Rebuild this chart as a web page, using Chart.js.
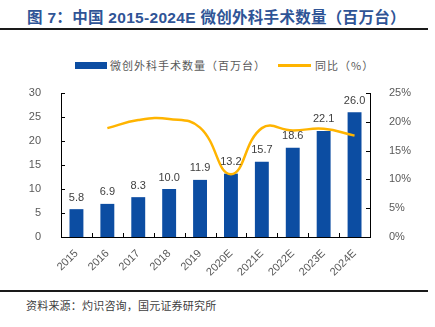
<!DOCTYPE html>
<html>
<head>
<meta charset="utf-8">
<script src="https://cdn.jsdelivr.net/npm/chart.js@4/dist/chart.umd.min.js"></script>
<style>
  body { margin: 0; background: #fff; width: 435px; height: 327px; position: relative; overflow: hidden; }
  #titulo { position: absolute; left: 27px; top: 5px; font: bold 15.5px "Liberation Sans", "Noto Sans CJK SC", sans-serif; letter-spacing: 0.3px; color: #2F5496; white-space: nowrap; }
  .linha { position: absolute; left: 0; width: 428px; height: 2px; background: #1a1a1a; }
  #fonte { position: absolute; left: 26px; top: 297px; font: 11px "Noto Sans CJK SC", sans-serif; letter-spacing: 0.2px; color: #404040; white-space: nowrap; }
  #legenda { position: absolute; top: 57px; left: 75px; font: 11px "Noto Sans CJK SC", sans-serif; letter-spacing: 1px; color: #595959; white-space: nowrap; }
  .item { position: absolute; top: 0; height: 16px; line-height: 16px; }
  .caixa { position: absolute; }
  #grafico { position: absolute; left: 0; top: 40px; }
</style>
</head>
<body>
<div id="titulo">图 7：中国 2015-2024E 微创外科手术数量（百万台）</div>
<div class="linha" style="top:28px"></div>
<div id="legenda"></div>
<canvas id="grafico" width="435" height="250"></canvas>
<div class="linha" style="top:290px"></div>
<div id="fonte">资料来源：灼识咨询，国元证券研究所</div>
<script>
// dados
var anos = ['2015', '2016', '2017', '2018', '2019', '2020E', '2021E', '2022E', '2023E', '2024E']
var cirurgias = [5.8, 6.9, 8.3, 10.0, 11.9, 13.2, 15.7, 18.6, 22.1, 26.0]
var crescimento = [null, 18.9, 20.3, 20.5, 19.0, 10.9, 18.9, 18.5, 18.8, 17.6]

var nomeBarra = '微创外科手术数量（百万台）'
var nomeLinha = '同比（%）'

var azul = '#0C4DA2'
var amarelo = '#FFB400'

// legenda em html
legenda.innerHTML = `<div class="item" style="left:0"><div class="caixa" style="left:0;top:5px;width:32px;height:7px;background:${azul}"></div><span style="position:absolute;left:35px">${nomeBarra}</span></div>
<div class="item" style="left:203px"><div class="caixa" style="left:0;top:7px;width:33px;height:3px;background:${amarelo}"></div><span style="position:absolute;left:37px">${nomeLinha}</span></div>`

// marcas dos eixos para dentro + rotulos das barras
const pluginEixos = {
    id: 'eixos',
    afterDraw(chart) {
        const ctx = chart.ctx
        const x = chart.scales.x
        const y = chart.scales.y
        const y1 = chart.scales.y1
        ctx.save()
        ctx.strokeStyle = '#000'
        ctx.lineWidth = 1
        ctx.beginPath()
        var passo = (x.right - x.left) / anos.length
        for (var i = 1; i < anos.length; i++) {
            var px = Math.round(x.left + i * passo) + 0.5
            ctx.moveTo(px, x.top)
            ctx.lineTo(px, x.top - 4)
        }
        y.ticks.forEach(t => {
            var py = Math.round(y.getPixelForValue(t.value)) + 0.5
            ctx.moveTo(y.right, py)
            ctx.lineTo(y.right + 4, py)
        })
        y1.ticks.forEach(t => {
            var py = Math.round(y1.getPixelForValue(t.value)) + 0.5
            ctx.moveTo(y1.left, py)
            ctx.lineTo(y1.left - 4, py)
        })
        ctx.stroke()

        ctx.fillStyle = '#404040'
        ctx.font = '11px "Liberation Sans", Arial, sans-serif'
        ctx.textAlign = 'center'
        ctx.textBaseline = 'bottom'
        const meta = chart.getDatasetMeta(0)
        meta.data.forEach((barra, i) => {
            ctx.fillText(cirurgias[i].toFixed(1), barra.x, barra.y - 6)
        })
        ctx.restore()
    }
}

const fonteTicks = { family: '"Liberation Sans", Arial, sans-serif', size: 11 }

new Chart(document.getElementById('grafico'), {
    type: 'bar',
    data: {
        labels: anos,
        datasets: [{
            label: nomeBarra,
            data: cirurgias,
            backgroundColor: azul,
            borderWidth: 0,
            categoryPercentage: 1,
            barPercentage: 0.45,
            yAxisID: 'y',
            order: 2
        }, {
            label: nomeLinha,
            type: 'line',
            data: crescimento,
            borderColor: amarelo,
            borderWidth: 2.5,
            pointRadius: 0,
            tension: 0.45,
            fill: false,
            yAxisID: 'y1',
            order: 1
        }]
    },
    options: {
        responsive: false,
        animation: false,
        layout: { padding: { top: 53, left: 0, right: 0, bottom: 0 } },
        plugins: {
            legend: { display: false },
            tooltip: { enabled: false }
        },
        scales: {
            x: {
                grid: { display: false },
                border: { display: true, color: '#000', width: 1 },
                ticks: { color: '#595959', font: fonteTicks, minRotation: 45, maxRotation: 45, padding: 2 },
                afterFit: function (s) { s.height = 53 }
            },
            y: {
                position: 'left',
                min: 0, max: 30,
                grid: { display: false },
                border: { display: true, color: '#000', width: 1 },
                ticks: { stepSize: 5, color: '#595959', font: fonteTicks, padding: 12 },
                afterFit: function (s) { s.width = 61 }
            },
            y1: {
                position: 'right',
                min: 0, max: 25,
                grid: { display: false },
                border: { display: true, color: '#000', width: 1 },
                ticks: { stepSize: 5, color: '#595959', font: fonteTicks, padding: 11, callback: v => v + '%' },
                afterFit: function (s) { s.width = 65 }
            }
        }
    },
    plugins: [pluginEixos]
})
</script>
</body>
</html>
